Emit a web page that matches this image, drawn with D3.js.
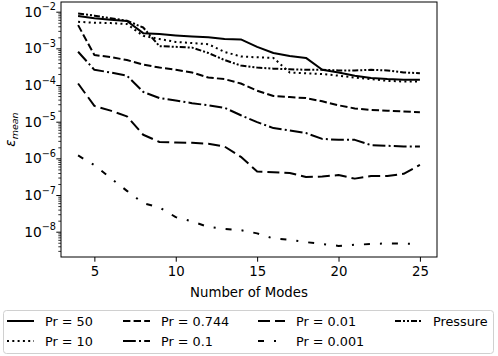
<!DOCTYPE html>
<html>
<head>
<meta charset="utf-8">
<script src="https://cdn.jsdelivr.net/npm/d3@7/dist/d3.min.js"></script>
<style>
  body { margin: 0; background: #fff; }
  text { font-family: "DejaVu Sans", sans-serif; fill: #000; }
</style>
</head>
<body>
<svg id="chart" width="498" height="356"></svg>
<script>
// number of modes on the x axis
var modes = [4, 5, 6, 7, 8, 9, 10, 11, 12, 13, 14, 15, 16, 17, 18, 19, 20, 21, 22, 23, 24, 25];

// mean error for each case
var pr50 = [7.6e-3, 6.6e-3, 6.0e-3, 5.6e-3, 2.6e-3, 2.45e-3, 2.25e-3, 2.1e-3, 2.0e-3, 1.8e-3, 1.75e-3,
            1.1e-3, 7.5e-4, 6.2e-4, 5.5e-4, 2.6e-4, 2.2e-4, 1.8e-4, 1.55e-4, 1.45e-4, 1.4e-4, 1.4e-4];
var pr10 = [5.3e-3, 5.0e-3, 4.9e-3, 4.6e-3, 2.2e-3, 1.8e-3, 1.5e-3, 1.4e-3, 1.3e-3, 8.0e-4, 6.0e-4,
            5.7e-4, 5.5e-4, 2.2e-4, 2.1e-4, 2.0e-4, 1.8e-4, 1.6e-4, 1.45e-4, 1.3e-4, 1.25e-4, 1.25e-4];
var pr0744 = [4.3e-3, 6.6e-4, 5.8e-4, 4.8e-4, 3.6e-4, 3.0e-4, 2.6e-4, 2.2e-4, 1.6e-4, 1.45e-4, 1.1e-4,
              7.0e-5, 5.0e-5, 4.7e-5, 4.4e-5, 3.6e-5, 2.8e-5, 2.3e-5, 2.1e-5, 2.0e-5, 1.9e-5, 1.8e-5];
var pr01 = [8.1e-4, 2.6e-4, 2.2e-4, 1.8e-4, 6.5e-5, 4.4e-5, 3.8e-5, 3.2e-5, 2.8e-5, 2.4e-5, 1.5e-5,
            9.7e-6, 6.7e-6, 5.8e-6, 4.9e-6, 3.4e-6, 3.2e-6, 3.2e-6, 2.3e-6, 2.2e-6, 2.1e-6, 2.1e-6];
var pr001 = [1.1e-4, 2.7e-5, 2.0e-5, 1.4e-5, 4.4e-6, 2.8e-6, 2.7e-6, 2.65e-6, 2.5e-6, 2.1e-6, 1.1e-6,
             4.4e-7, 4.2e-7, 4.0e-7, 3.1e-7, 3.2e-7, 3.5e-7, 2.8e-7, 3.3e-7, 3.3e-7, 3.8e-7, 6.6e-7];
var pr0001 = [1.2e-6, 6.5e-7, 2.9e-7, 1.3e-7, 6.0e-8, 4.6e-8, 2.5e-8, 1.9e-8, 1.35e-8, 1.2e-8, 1.1e-8,
              9.0e-9, 6.5e-9, 6.0e-9, 5.2e-9, 4.6e-9, 4.1e-9, 4.4e-9, 4.6e-9, 4.8e-9, 4.7e-9, 4.7e-9];
var pressure = [8.9e-3, 7.8e-3, 6.6e-3, 5.7e-3, 3.7e-3, 1.15e-3, 1.1e-3, 1.05e-3, 7.5e-4, 4.8e-4, 3.4e-4,
                3.0e-4, 2.8e-4, 2.7e-4, 2.6e-4, 2.6e-4, 2.5e-4, 2.5e-4, 2.6e-4, 2.5e-4, 2.2e-4, 2.1e-4];

var labels = ["Pr = 50", "Pr = 10", "Pr = 0.744", "Pr = 0.1", "Pr = 0.01", "Pr = 0.001", "Pressure"];
var xTicks = [5, 10, 15, 20, 25];
var yTickExps = [-8, -7, -6, -5, -4, -3, -2];

// dash patterns in px (matplotlib styles at lw 1.5)
var dashes = [null, "2,3.3", "7.4,3.2", "12.8,3.2,2,3.2", "12,5", "6,10,2,10", "6,2,2,2,2,2"];

var series = [pr50, pr10, pr0744, pr01, pr001, pr0001, pressure];

var margins = {top: 2, right: 61, bottom: 99, left: 61},
    width = 498 - margins.left - margins.right,
    height = 356 - margins.top - margins.bottom;

var svg = d3.select("#chart");
var g = svg.append("g").attr("transform", "translate(" + margins.left + "," + margins.top + ")");

var xScale = d3.scaleLinear().domain([2.95, 26.05]).range([0, width]);
var yScale = d3.scaleLog().domain([Math.pow(10, -8.69), Math.pow(10, -1.7355)]).range([height, 0]);

// lines
var line = d3.line()
  .x(function(d) { return xScale(d[0]); })
  .y(function(d) { return yScale(d[1]); });

series.forEach(function(s, i) {
  var pts = modes.map(function(m, j) { return [m, s[j]]; });
  g.append("path")
    .attr("d", line(pts))
    .attr("fill", "none")
    .attr("stroke", "#000")
    .attr("stroke-width", 2)
    .attr("stroke-linejoin", "round")
    .attr("stroke-dasharray", dashes[i]);
});

// x axis
var xAxis = d3.axisBottom(xScale).tickValues(xTicks).tickSize(4.7).tickPadding(4.7);
var gx = g.append("g").attr("transform", "translate(0," + height + ")").call(xAxis);
gx.select(".domain").remove();
gx.selectAll("text").attr("font-size", 13.3).attr("font-family", "DejaVu Sans").attr("fill", "#000");
gx.selectAll("line").attr("stroke", "#000").attr("stroke-width", 1);

// y axis, major ticks
var yMajor = yTickExps.map(function(e) { return Math.pow(10, e); });
var yAxis = d3.axisLeft(yScale).tickValues(yMajor).tickSize(4.7).tickFormat("");
var gy = g.append("g").call(yAxis);
gy.select(".domain").remove();
gy.selectAll("line").attr("stroke", "#000").attr("stroke-width", 1);

// y axis, minor ticks
var yMinor = [];
for (var e = -9; e <= -2; e++) {
  for (var k = 2; k <= 9; k++) {
    var v = k * Math.pow(10, e);
    if (v >= yScale.domain()[0] && v <= yScale.domain()[1]) yMinor.push(v);
  }
}
var gyMinor = g.append("g").call(d3.axisLeft(yScale).tickValues(yMinor).tickSize(2.7).tickFormat(""));
gyMinor.select(".domain").remove();
gyMinor.selectAll("line").attr("stroke", "#000").attr("stroke-width", 0.8);

// y tick labels as 10^e
yTickExps.forEach(function(ex) {
  var t = g.append("text")
    .attr("x", -5)
    .attr("y", yScale(Math.pow(10, ex)) + 5)
    .attr("text-anchor", "end")
    .attr("font-size", 13.8);
  t.append("tspan").text("10");
  t.append("tspan").attr("dy", -6.5).attr("font-size", 9.7).text("\u2212" + Math.abs(ex));
});

// frame
g.append("rect")
  .attr("width", width).attr("height", height)
  .attr("fill", "none").attr("stroke", "#000").attr("stroke-width", 1);

// axis labels
svg.append("text")
  .attr("x", margins.left + width / 2)
  .attr("y", 297)
  .attr("text-anchor", "middle")
  .attr("font-size", 13.3)
  .text("Number of Modes");

var yl = svg.append("text")
  .attr("transform", "translate(15," + (margins.top + height / 2) + ") rotate(-90)")
  .attr("text-anchor", "middle")
  .attr("font-size", 13.5)
  .attr("font-style", "italic");
yl.append("tspan").text("\u03b5");
yl.append("tspan").attr("dy", 3).attr("font-size", 9.5).text("mean");

// legend
var legend = svg.append("g");
legend.append("rect")
  .attr("x", 3.5).attr("y", 310.5).attr("width", 490).attr("height", 43)
  .attr("rx", 3).attr("fill", "#fff").attr("stroke", "#d0d0d0").attr("stroke-width", 1);

var colX = [7, 123, 258, 395];
var rowY = [321, 341];
labels.forEach(function(lab, i) {
  var c = Math.floor(i / 2), r = i % 2;
  var x0 = colX[c], y0 = rowY[r];
  legend.append("line")
    .attr("x1", x0).attr("x2", x0 + 27)
    .attr("y1", y0).attr("y2", y0)
    .attr("stroke", "#000").attr("stroke-width", 2)
    .attr("stroke-dasharray", dashes[i]);
  legend.append("text")
    .attr("x", x0 + 38).attr("y", y0 + 4.5)
    .attr("font-size", 12.8)
    .text(lab);
});
</script>
</body>
</html>
